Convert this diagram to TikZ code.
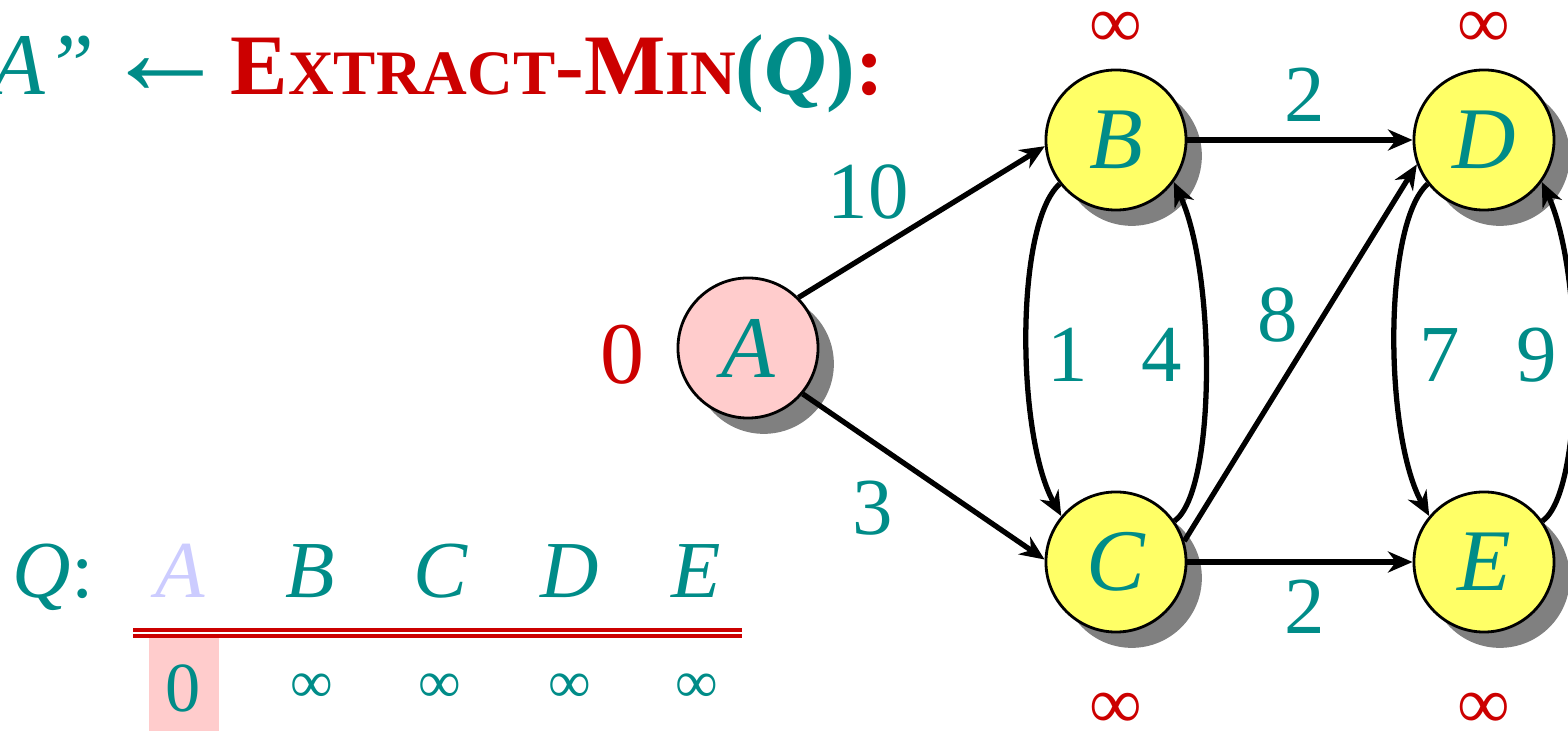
\documentclass[tikz,border=0pt]{standalone}
\usepackage{fontspec}
\setmainfont{LiberationSerif}[Extension=.ttf, UprightFont=*-Regular, ItalicFont=*-Italic, BoldFont=*-Bold, BoldItalicFont=*-BoldItalic]
\usetikzlibrary{arrows.meta,shadows}
\definecolor{tl}{RGB}{0,140,136}
\definecolor{rd}{RGB}{204,0,0}
\definecolor{pk}{RGB}{255,204,204}
\definecolor{yl}{RGB}{255,255,102}
\definecolor{lv}{RGB}{204,204,255}
\definecolor{sh}{RGB}{128,128,128}
\begin{document}
\begin{tikzpicture}[x=0.01cm,y=-0.01cm,
 vtx/.style={circle, draw=black, line width=0.8pt, minimum size=1.4cm, inner sep=0pt, text=tl,
   font=\fontsize{25}{30}\selectfont\itshape,
   drop shadow={shadow xshift=4.5pt, shadow yshift=-4.5pt, fill=sh, opacity=1}},
 arr/.style={line width=1.5pt, -{Stealth[length=7pt,width=6pt]}},
 wt/.style={text=tl, font=\fontsize{23}{28}\selectfont, inner sep=0pt},
 dist/.style={text=rd, font=\fontsize{21}{25}\selectfont, inner sep=0pt},
 qlet/.style={anchor=base, text=tl, font=\fontsize{23}{28}\selectfont\itshape, inner sep=0pt},
 qval/.style={text=tl, font=\fontsize{17}{20}\selectfont, inner sep=0pt},
]
\useasboundingbox (0,0) rectangle (1568,731);
\clip (0,0) rectangle (1568,731);

% title
\node[anchor=base west, inner sep=0pt] (title) at (230,95)
 {\fontsize{24.5}{30}\selectfont\bfseries\color{rd}E{\fontsize{18}{20}\selectfont XTRACT}-M{\fontsize{18}{20}\selectfont IN}\color{tl}(\itshape Q\upshape)\color{rd}:};
\node[anchor=base, inner sep=0pt, text=tl, font=\fontsize{36}{36}\selectfont] (tarr) at (166,95) {←};
\node[anchor=base east, inner sep=0pt, text=tl, font=\fontsize{25}{30}\selectfont\itshape] (tq) at (95,95) {“A”};

% vertices
\node[vtx, fill=pk] (A) at (748,348) {A};
\node[vtx, fill=yl] (B) at (1116,140) {B};
\node[vtx, fill=yl] (D) at (1484,140) {D};
\node[vtx, fill=yl] (C) at (1116,562) {C};
\node[vtx, fill=yl] (E) at (1484,562) {E};

% edges
\draw[arr] (A.45) -- (B.185);
\draw[arr] (A.-40) -- (C.178);
\draw[arr] (B.east) -- (D.west);
\draw[arr] (C.east) -- (E.west);
\draw[arr] (C.17) -- (D.200);
\draw[arr] (B.218) .. controls +(-45,40) and +(-45,-80) .. (C.140);
\draw[arr] (C.35) .. controls +(42,-30) and +(42,90) .. (B.-36);
\draw[arr] (D.218) .. controls +(-45,40) and +(-45,-80) .. (E.140);
\draw[arr] (E.35) .. controls +(42,-30) and +(42,90) .. (D.-36);

% weights
\node[wt] (w10) at (868,192) {10};
\node[wt] (w3) at (873,508) {3};
\node[wt] (w2a) at (1305,95) {2};
\node[wt] (w2b) at (1305,607) {2};
\node[wt] (w1) at (1068,355) {1};
\node[wt] (w4) at (1162,355) {4};
\node[wt] (w8) at (1278,315) {8};
\node[wt] (w7) at (1440,355) {7};
\node[wt] (w9) at (1537,355) {9};

% distances
\node[dist, font=\fontsize{25}{30}\selectfont] (d0) at (622,355) {0};
\node[dist] (dB) at (1116,30) {∞};
\node[dist] (dD) at (1484,30) {∞};
\node[dist] (dC) at (1116,711) {∞};
\node[dist] (dE) at (1484,711) {∞};

% queue
\node[anchor=north west, fill=pk, minimum width=0.7cm, minimum height=0.95cm, inner sep=0pt] (hl) at (148,636) {};
\node[anchor=base west, text=tl, font=\fontsize{23}{28}\selectfont\itshape, inner sep=0pt] (Ql) at (12,598) {Q\upshape:};
\node[qlet, text=lv] (qA) at (180,598) {A};
\node[qlet] (qB) at (310,598) {B};
\node[qlet] (qC) at (440,598) {C};
\node[qlet] (qD) at (570,598) {D};
\node[qlet] (qE) at (696,598) {E};
\draw[rd, line width=0.9pt] (133,630) -- (742,630);
\draw[rd, line width=0.9pt] (133,636) -- (742,636);
\node[qval, font=\fontsize{20}{24}\selectfont] (v0) at (183,688) {0};
\node[qval] (vB) at (312,688) {∞};
\node[qval] (vC) at (440,688) {∞};
\node[qval] (vD) at (570,688) {∞};
\node[qval] (vE) at (697,688) {∞};
\end{tikzpicture}
\end{document}
